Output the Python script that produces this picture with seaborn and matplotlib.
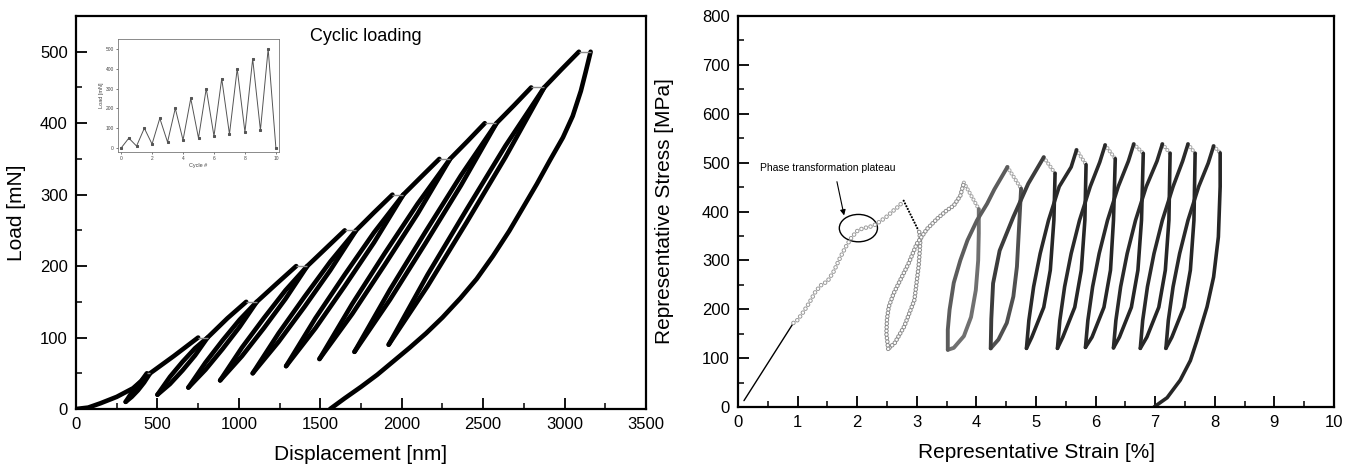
import numpy as np
import pandas as pd
import matplotlib
matplotlib.use("Agg")
import matplotlib.pyplot as plt
import seaborn as sns
from matplotlib.patches import Ellipse
from matplotlib.ticker import MultipleLocator

# ---------------- data: left panel (load vs displacement) ----------------
peak_load = [50, 100, 150, 200, 250, 300, 350, 400, 450, 500]
hold_start = [435, 750, 1045, 1352, 1650, 1943, 2231, 2510, 2795, 3088]
hold_end = [455, 808, 1110, 1420, 1720, 2010, 2297, 2582, 2875, 3160]

load_disp = [
    [0, 75, 150, 250, 350, 400, 435],
    [305, 342, 380, 418, 455, 600, 750],
    [500, 577, 654, 731, 808, 930, 1045],
    [690, 795, 900, 1005, 1110, 1230, 1352],
    [885, 1019, 1153, 1286, 1420, 1535, 1650],
    [1085, 1244, 1403, 1561, 1720, 1830, 1943],
    [1290, 1470, 1650, 1830, 2010, 2120, 2231],
    [1495, 1696, 1896, 2097, 2297, 2405, 2510],
    [1710, 1928, 2146, 2364, 2582, 2690, 2795],
    [1920, 2159, 2398, 2636, 2875, 2980, 3088],
]
load_force = [
    [0, 2, 8, 17, 29, 39, 50],
    [10, 23, 34, 43, 50, 74, 100],
    [20, 45, 66, 85, 100, 127, 150],
    [30, 65, 96, 125, 150, 175, 200],
    [40, 86, 127, 166, 200, 225, 250],
    [50, 106, 157, 206, 250, 275, 300],
    [60, 127, 188, 247, 300, 325, 350],
    [70, 147, 218, 287, 350, 375, 400],
    [80, 167, 248, 327, 400, 425, 450],
    [90, 188, 279, 368, 450, 475, 500],
]
unload_disp = [
    [455, 418, 380, 342, 305],
    [808, 731, 654, 577, 500],
    [1110, 1005, 900, 795, 690],
    [1420, 1286, 1153, 1019, 885],
    [1720, 1561, 1403, 1244, 1085],
    [2010, 1830, 1650, 1470, 1290],
    [2297, 2097, 1896, 1696, 1495],
    [2582, 2364, 2146, 1928, 1710],
    [2875, 2636, 2398, 2159, 1920],
    [3160, 3130, 3100, 3050, 2990, 2910, 2830, 2740, 2660, 2560, 2460, 2360,
     2250, 2150, 2050, 1950, 1850, 1750, 1650, 1560],
]
unload_force = [
    [50, 37, 26, 17, 10],
    [100, 75, 54, 35, 20],
    [150, 115, 84, 55, 30],
    [200, 154, 113, 74, 40],
    [250, 194, 143, 94, 50],
    [300, 233, 172, 113, 60],
    [350, 273, 202, 133, 70],
    [400, 313, 232, 153, 80],
    [450, 352, 261, 172, 90],
    [500, 472, 445, 410, 380, 348, 315, 280, 249, 214, 182, 155,
     128, 106, 86, 67, 48, 31, 15, 0],
]

# inset: load history
cycle_t = [0, 0.5, 1, 1.5, 2, 2.5, 3, 3.5, 4, 4.5, 5, 5.5, 6, 6.5, 7, 7.5, 8, 8.5, 9, 9.5, 10]
cycle_load = [0, 50, 10, 100, 20, 150, 30, 200, 40, 250, 50, 300, 60, 350, 70, 400, 80, 450, 90, 500, 0]

# ---------------- data: right panel (stress vs strain) ----------------
elastic_strain = [0.10, 0.93]
elastic_stress = [13, 172]
rise_strain = [0.93, 1.0, 1.1, 1.2, 1.3, 1.4, 1.5, 1.6, 1.7, 1.8, 1.9, 2.0, 2.1,
               2.2, 2.3, 2.4, 2.5, 2.6, 2.7, 2.78]
rise_stress = [172, 178, 195, 214, 236, 250, 257, 276, 302, 326, 346, 360, 366,
               368, 373, 381, 390, 401, 411, 422]
peak_strain = [2.78, 3.79, 4.52, 5.13, 5.68, 6.16, 6.64, 7.12, 7.55, 7.98]
peak_stress = [422, 459, 491, 511, 526, 536, 538, 538, 538, 534]
drop_strain = [3.04, 4.04, 4.75, 5.32, 5.84, 6.33, 6.80, 7.25, 7.67, 8.09]
drop_stress = [358, 405, 447, 478, 496, 508, 519, 519, 519, 520]
unload_strain = [
    [3.04, 3.06, 3.05, 3.03, 2.96, 2.79, 2.63, 2.52],
    [4.04, 4.04, 4.03, 3.99, 3.91, 3.79, 3.62, 3.52],
    [4.75, 4.71, 4.68, 4.62, 4.51, 4.37, 4.24],
    [5.32, 5.30, 5.24, 5.13, 4.93, 4.84],
    [5.84, 5.82, 5.76, 5.65, 5.45, 5.36],
    [6.33, 6.30, 6.25, 6.14, 5.94, 5.83],
    [6.80, 6.77, 6.71, 6.60, 6.40, 6.30],
    [7.25, 7.23, 7.17, 7.06, 6.86, 6.75],
    [7.67, 7.65, 7.59, 7.48, 7.28, 7.18],
    [8.09, 8.09, 8.06, 7.98, 7.87, 7.70, 7.59, 7.42, 7.20, 6.98],
]
unload_stress = [
    [358, 342, 320, 287, 219, 165, 131, 119],
    [405, 355, 300, 239, 184, 145, 121, 117],
    [447, 355, 287, 226, 172, 138, 120],
    [478, 382, 280, 204, 143, 120],
    [496, 382, 280, 204, 143, 120],
    [508, 382, 280, 204, 143, 122],
    [519, 382, 280, 204, 143, 121],
    [519, 382, 280, 204, 143, 120],
    [519, 382, 280, 204, 143, 120],
    [520, 451, 348, 266, 205, 136, 95, 55, 19, 0],
]
reload_strain = [
    [2.52, 2.49, 2.50, 2.53, 2.61, 2.72, 2.86, 3.00, 3.17, 3.34, 3.50, 3.62, 3.73, 3.79],
    [3.52, 3.52, 3.55, 3.62, 3.73, 3.85, 4.01, 4.18, 4.30, 4.42, 4.52],
    [4.24, 4.25, 4.28, 4.39, 4.62, 4.87, 5.13],
    [4.84, 4.88, 4.96, 5.07, 5.21, 5.39, 5.59, 5.68],
    [5.36, 5.40, 5.48, 5.59, 5.73, 5.91, 6.07, 6.16],
    [5.83, 5.87, 5.95, 6.06, 6.20, 6.38, 6.55, 6.64],
    [6.30, 6.34, 6.42, 6.53, 6.67, 6.85, 7.03, 7.12],
    [6.75, 6.79, 6.87, 6.98, 7.12, 7.30, 7.46, 7.55],
    [7.18, 7.22, 7.30, 7.41, 7.55, 7.73, 7.89, 7.98],
]
reload_stress = [
    [119, 150, 180, 205, 232, 259, 293, 334, 364, 385, 402, 412, 432, 459],
    [117, 158, 199, 254, 300, 341, 382, 416, 445, 470, 491],
    [120, 180, 253, 320, 389, 457, 511],
    [120, 177, 246, 314, 382, 451, 491, 526],
    [120, 177, 246, 314, 382, 451, 501, 536],
    [122, 177, 246, 314, 382, 451, 503, 538],
    [121, 177, 246, 314, 382, 451, 503, 538],
    [120, 177, 246, 314, 382, 451, 503, 538],
    [120, 177, 246, 314, 382, 451, 499, 534],
]

# ---------------- style ----------------
sns.set_theme(style="ticks")
plt.rcParams['font.family'] = ['Liberation Sans', 'DejaVu Sans']
plt.rcParams['lines.scale_dashes'] = False
plt.rcParams['axes.edgecolor'] = 'black'
plt.rcParams['xtick.color'] = 'black'
plt.rcParams['ytick.color'] = 'black'
plt.rcParams['text.color'] = 'black'
plt.rcParams['axes.labelcolor'] = 'black'


def seg(ax, x, y, color, lw, cap='round'):
    sns.lineplot(x=x, y=y, ax=ax, sort=False, estimator=None, color=color,
                 linewidth=lw, legend=False)
    line = ax.lines[-1]
    line.set_solid_capstyle(cap)
    line.set_solid_joinstyle('round')
    return line


def rings(ax, x, y, color, size=3.3, gap=3.4):
    for c, w in ((color, size), ('white', size - 1.4)):
        ln = seg(ax, x, y, c, w)
        ln.set_dashes((0.001, gap))
        ln.set_dash_capstyle('round')


fig = plt.figure(figsize=(13.55, 4.66), dpi=100)
fig.patch.set_facecolor('white')
axL = fig.add_axes([76 / 1355, 57 / 466, 570 / 1355, 393 / 466])
axR = fig.add_axes([738 / 1355, 59 / 466, 596 / 1355, 391 / 466])

# ---- left panel ----
for i in range(len(peak_load)):
    seg(axL, load_disp[i], load_force[i], 'black', 3.3)
    seg(axL, unload_disp[i], unload_force[i], 'black', 3.3)
for i in range(len(peak_load)):
    seg(axL, [hold_start[i], hold_end[i]], [peak_load[i], peak_load[i]], '#8a8a8a', 1.0, cap='butt')

axL.set_xlim(0, 3500)
axL.set_ylim(0, 550)
axL.xaxis.set_major_locator(MultipleLocator(500))
axL.xaxis.set_minor_locator(MultipleLocator(250))
axL.yaxis.set_major_locator(MultipleLocator(100))
axL.yaxis.set_minor_locator(MultipleLocator(50))
axL.set_xlabel('Displacement [nm]', fontsize=15, labelpad=9)
axL.set_ylabel('Load [mN]', fontsize=15, labelpad=10)
axL.text(1780, 521, 'Cyclic loading', fontsize=13, ha='center', va='center')

# ---- inset ----
axI = fig.add_axes([118 / 1355, 314 / 466, 161 / 1355, 113 / 466])
sns.lineplot(x=cycle_t, y=cycle_load, ax=axI, sort=False, estimator=None,
             color='#555555', linewidth=0.7, marker='s', markersize=1.8,
             markeredgecolor='#555555', legend=False)
axI.set_xlim(-0.2, 10.2)
axI.set_ylim(-20, 550)
axI.set_xticks([0, 2, 4, 6, 8, 10])
axI.set_yticks([0, 100, 200, 300, 400, 500])
axI.tick_params(labelsize=3.5, length=1.5, width=0.5, direction='out', pad=1.5,
                colors='#444444')
axI.set_xlabel('Cycle #', fontsize=4, labelpad=1.5, color='#444444')
axI.set_ylabel('Load [mN]', fontsize=4, labelpad=1.5, color='#444444')
for s in axI.spines.values():
    s.set_linewidth(0.6)
    s.set_color('#777777')

# ---- right panel ----
seg(axR, elastic_strain, elastic_stress, 'black', 1.0)
rings(axR, rise_strain, rise_stress, '#9a9a9a')

unload_colors = ['#8c8c8c', '#707070', '#505050']
reload_colors = ['#8c8c8c', '#5c5c5c', '#3c3c3c']
for i in range(len(peak_strain)):
    # short descent right after each peak
    if i == 0:
        ln = seg(axR, [peak_strain[i], drop_strain[i]], [peak_stress[i], drop_stress[i]], 'black', 1.6)
        ln.set_dashes((0.001, 2.2))
        ln.set_dash_capstyle('round')
    else:
        rings(axR, [peak_strain[i], drop_strain[i]], [peak_stress[i], drop_stress[i]], '#a5a5a5', size=3.0, gap=2.8)
    if i == 0:
        rings(axR, unload_strain[i], unload_stress[i], unload_colors[i], size=3.3, gap=2.6)
    elif i < 3:
        seg(axR, unload_strain[i], unload_stress[i], unload_colors[i], 2.8)
    else:
        seg(axR, unload_strain[i], unload_stress[i], '#262626', 2.6)
for i in range(len(reload_strain)):
    if i == 0:
        rings(axR, reload_strain[i], reload_stress[i], reload_colors[i], size=3.3, gap=2.6)
    elif i < 3:
        seg(axR, reload_strain[i], reload_stress[i], reload_colors[i], 2.8)
    else:
        seg(axR, reload_strain[i], reload_stress[i], '#2a2a2a', 2.6)

axR.set_xlim(0, 10)
axR.set_ylim(0, 800)
axR.xaxis.set_major_locator(MultipleLocator(1))
axR.xaxis.set_minor_locator(MultipleLocator(0.5))
axR.yaxis.set_major_locator(MultipleLocator(100))
axR.yaxis.set_minor_locator(MultipleLocator(50))
axR.set_xlabel('Representative Strain [%]', fontsize=15, labelpad=9)
axR.set_ylabel('Representative Stress [MPa]', fontsize=15, labelpad=20)

axR.text(0.37, 488, 'Phase transformation plateau', fontsize=7.5, ha='left', va='center')
axR.add_patch(Ellipse((2.02, 366), width=0.64, height=56, fill=False, lw=1.0, ec='black'))
axR.annotate('', xy=(1.78, 392), xytext=(1.66, 461),
             arrowprops=dict(arrowstyle='-|>', color='black', lw=0.8, mutation_scale=8,
                             shrinkA=0, shrinkB=0))

for ax in (axL, axR):
    ax.set_facecolor('white')
    ax.tick_params(which='major', direction='in', length=8, width=1.3, labelsize=12,
                   top=False, right=False, pad=6)
    ax.tick_params(which='minor', direction='in', length=4, width=1.1, top=False, right=False)
    for s in ax.spines.values():
        s.set_visible(True)
        s.set_linewidth(1.6)
        s.set_color('black')

fig.savefig('out.png', dpi=100, facecolor='white')
